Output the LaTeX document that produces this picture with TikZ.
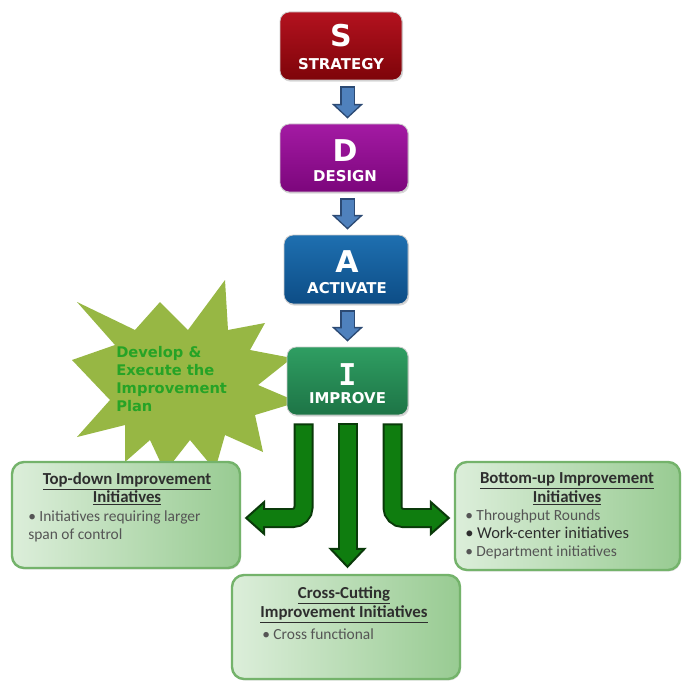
\documentclass[tikz,border=0pt]{standalone}
\usepackage{fontspec}
\setmainfont{Carlito}
\newfontfamily\dejavu{DejaVu Sans}
\newfontfamily\dejamono{DejaVu Sans Mono}
\usetikzlibrary{calc,shadows}
\definecolor{sTop}{HTML}{B3121F}\definecolor{sBot}{HTML}{7E0409}
\definecolor{dTop}{HTML}{A31AA3}\definecolor{dBot}{HTML}{7C067C}
\definecolor{aTop}{HTML}{1E6FB0}\definecolor{aBot}{HTML}{0D4D86}
\definecolor{iTop}{HTML}{2F9E62}\definecolor{iBot}{HTML}{1D7446}
\definecolor{blueF}{HTML}{4F81BD}\definecolor{blueD}{HTML}{2C4A74}
\definecolor{grF}{HTML}{0F7D0F}\definecolor{grD}{HTML}{0A3A0A}
\definecolor{starC}{HTML}{97B744}\definecolor{starT}{HTML}{26A326}
\definecolor{boxL}{HTML}{DCEEDA}\definecolor{boxR}{HTML}{98CB92}\definecolor{boxB}{HTML}{74B36B}
\definecolor{titleC}{HTML}{2E2E2E}\definecolor{bulC}{HTML}{555555}
\tikzset{
  sdai/.style={rounded corners=7pt, draw=white!80!black, line width=0.6pt,
    drop shadow={opacity=0.3,shadow xshift=0.8pt,shadow yshift=-1.2pt}},
  bigl/.style={text=white, inner sep=0pt, font=\dejavu\bfseries\fontsize{22.5}{22.5}\selectfont},
  word/.style={text=white, inner sep=0pt, font=\dejavu\bfseries\fontsize{11.2}{12}\selectfont},
  gbox/.style={rounded corners=9pt, draw=boxB, line width=1.8pt, left color=boxL, right color=boxR,
    drop shadow={opacity=0.2,shadow xshift=0.8pt,shadow yshift=-1.2pt}},
  ttl/.style={text=titleC, inner sep=0pt, align=center, font=\bfseries\fontsize{12.6}{12}\selectfont},
  bul/.style={text=bulC, inner sep=0pt, align=left, anchor=north west, font=\fontsize{11.6}{13.5}\selectfont},
  startext/.style={text=starT, inner sep=0pt, align=left, anchor=north west, font=\dejavu\bfseries\fontsize{11}{13.5}\selectfont},
  bshout/.style={line width=11.25pt, draw=blueD},
  bshin/.style={line width=9pt, draw=blueF},
  bhead/.style={fill=blueF, draw=blueD, line width=1pt, line join=miter},
  gshout/.style={line width=15pt, draw=grD, rounded corners=8pt},
  gshin/.style={line width=12pt, draw=grF, rounded corners=8pt},
  ghead/.style={fill=grF, draw=grD, line width=1.5pt, line join=miter},
}
\begin{document}
\begin{tikzpicture}[x=0.75pt,y=-0.75pt]
\useasboundingbox (0,0) rectangle (684,681);
\fill[white] (0,0) rectangle (684,681);

% starburst
\fill[starC] (77,302) -- (135,330) -- (160,302) -- (188,330) -- (225,280) -- (228,330)
  -- (265,323) -- (250,350) -- (292,358) -- (258,385) -- (298,402) -- (255,415)
  -- (263,452) -- (225,435) -- (215,470) -- (190,440) -- (165,472) -- (150,440)
  -- (125,462) -- (125,425) -- (77,437) -- (110,400) -- (72,360) -- (115,345) -- cycle;
\node[startext] (st) at (116,346) {Develop \&\\Execute the\\Improvement\\Plan};

% main boxes
\node[sdai, top color=sTop, bottom color=sBot, minimum width=91.5pt, minimum height=51pt] (S) at (341,46) {};
\node[sdai, top color=dTop, bottom color=dBot, minimum width=96pt, minimum height=51pt] (D) at (344,158) {};
\node[sdai, top color=aTop, bottom color=aBot, minimum width=93pt, minimum height=51.75pt] (A) at (346,269.5) {};
\node[sdai, top color=iTop, bottom color=iBot, minimum width=90.75pt, minimum height=51pt] (I) at (347.5,381) {};

\node[bigl] (Sl) at (341,36) {S};
\node[word] (Sw) at (341,64) {STRATEGY};
\node[bigl] (Dl) at (345,151) {D};
\node[word] (Dw) at (345,176) {DESIGN};
\node[bigl] (Al) at (347,262) {A};
\node[word] (Aw) at (347,288) {ACTIVATE};
\node[bigl, font=\dejamono\bfseries\fontsize{22.5}{22.5}\selectfont] (Il) at (347.5,375) {I};
\node[word] (Iw) at (347.5,398) {IMPROVE};

% blue arrows
\foreach \a/\b/\n in {S/D/1, D/A/2, A/I/3}{
  \coordinate (bs\n) at ([yshift=-4.5pt]\a.south -| I.north);
  \coordinate (be\n) at ([yshift=4.5pt]\b.north -| I.north);
  \draw[bshout] (bs\n) -- ($(be\n)+(0,-13)$);
  \filldraw[bhead] (be\n) -- ++(-14,-13) -- ++(28,0) -- cycle;
  \draw[bshin] ($(bs\n)+(0,1.4)$) -- ($(be\n)+(0,-11)$);
}

% green boxes
\node[gbox, minimum width=171pt, minimum height=79.5pt] (LB) at (126,515) {};
\node[gbox, minimum width=168.75pt, minimum height=81pt] (RB) at (567.5,516) {};
\node[gbox, minimum width=171pt, minimum height=78pt] (CB) at (346,627) {};

\node[ttl] (LBt) at (127,489) {\underline{Top-down Improvement}\\\underline{Initiatives}};
\node[bul] (LBb) at (28,510) {• Initiatives requiring larger\\span of control};
\node[ttl] (RBt) at (567,489) {\underline{Bottom-up Improvement}\\\underline{Initiatives}};
\node[bul] (RBb) at (465,509) {• Throughput Rounds\\{\fontsize{12.4}{13.5}\selectfont\color{titleC}• Work-center initiatives}\\• Department initiatives};
\node[ttl] (CBt) at (344,605) {\underline{Cross-Cutting}\\\underline{Improvement Initiatives}};
\node[bul] (CBb) at (262,628) {• Cross functional};

% green arrows
\coordinate (l0) at ($(I.south)+(-44,8)$);
\coordinate (lt) at ($(LB.east)+(5,3)$);
\coordinate (m0) at ($(I.south)+(0,8)$);
\coordinate (mt) at ($(m0 |- CB.north)+(0,-7)$);
\coordinate (r0) at ($(I.south)+(45,8)$);
\coordinate (rt) at ($(RB.west)+(-5,2)$);

\draw[gshout] (l0) |- ($(lt)+(18,0)$);
\filldraw[ghead] (lt) -- ++(18,-16) -- ++(0,32) -- cycle;
\draw[gshin] ($(l0)+(0,2)$) |- ($(lt)+(15,0)$);

\draw[gshout] (m0) -- ($(mt)+(0,-18)$);
\filldraw[ghead] (mt) -- ++(-17,-18) -- ++(34,0) -- cycle;
\draw[gshin] ($(m0)+(0,2)$) -- ($(mt)+(0,-15)$);

\draw[gshout] (r0) |- ($(rt)+(-18,0)$);
\filldraw[ghead] (rt) -- ++(-18,-16) -- ++(0,32) -- cycle;
\draw[gshin] ($(r0)+(0,2)$) |- ($(rt)+(-15,0)$);
\end{tikzpicture}
\end{document}
